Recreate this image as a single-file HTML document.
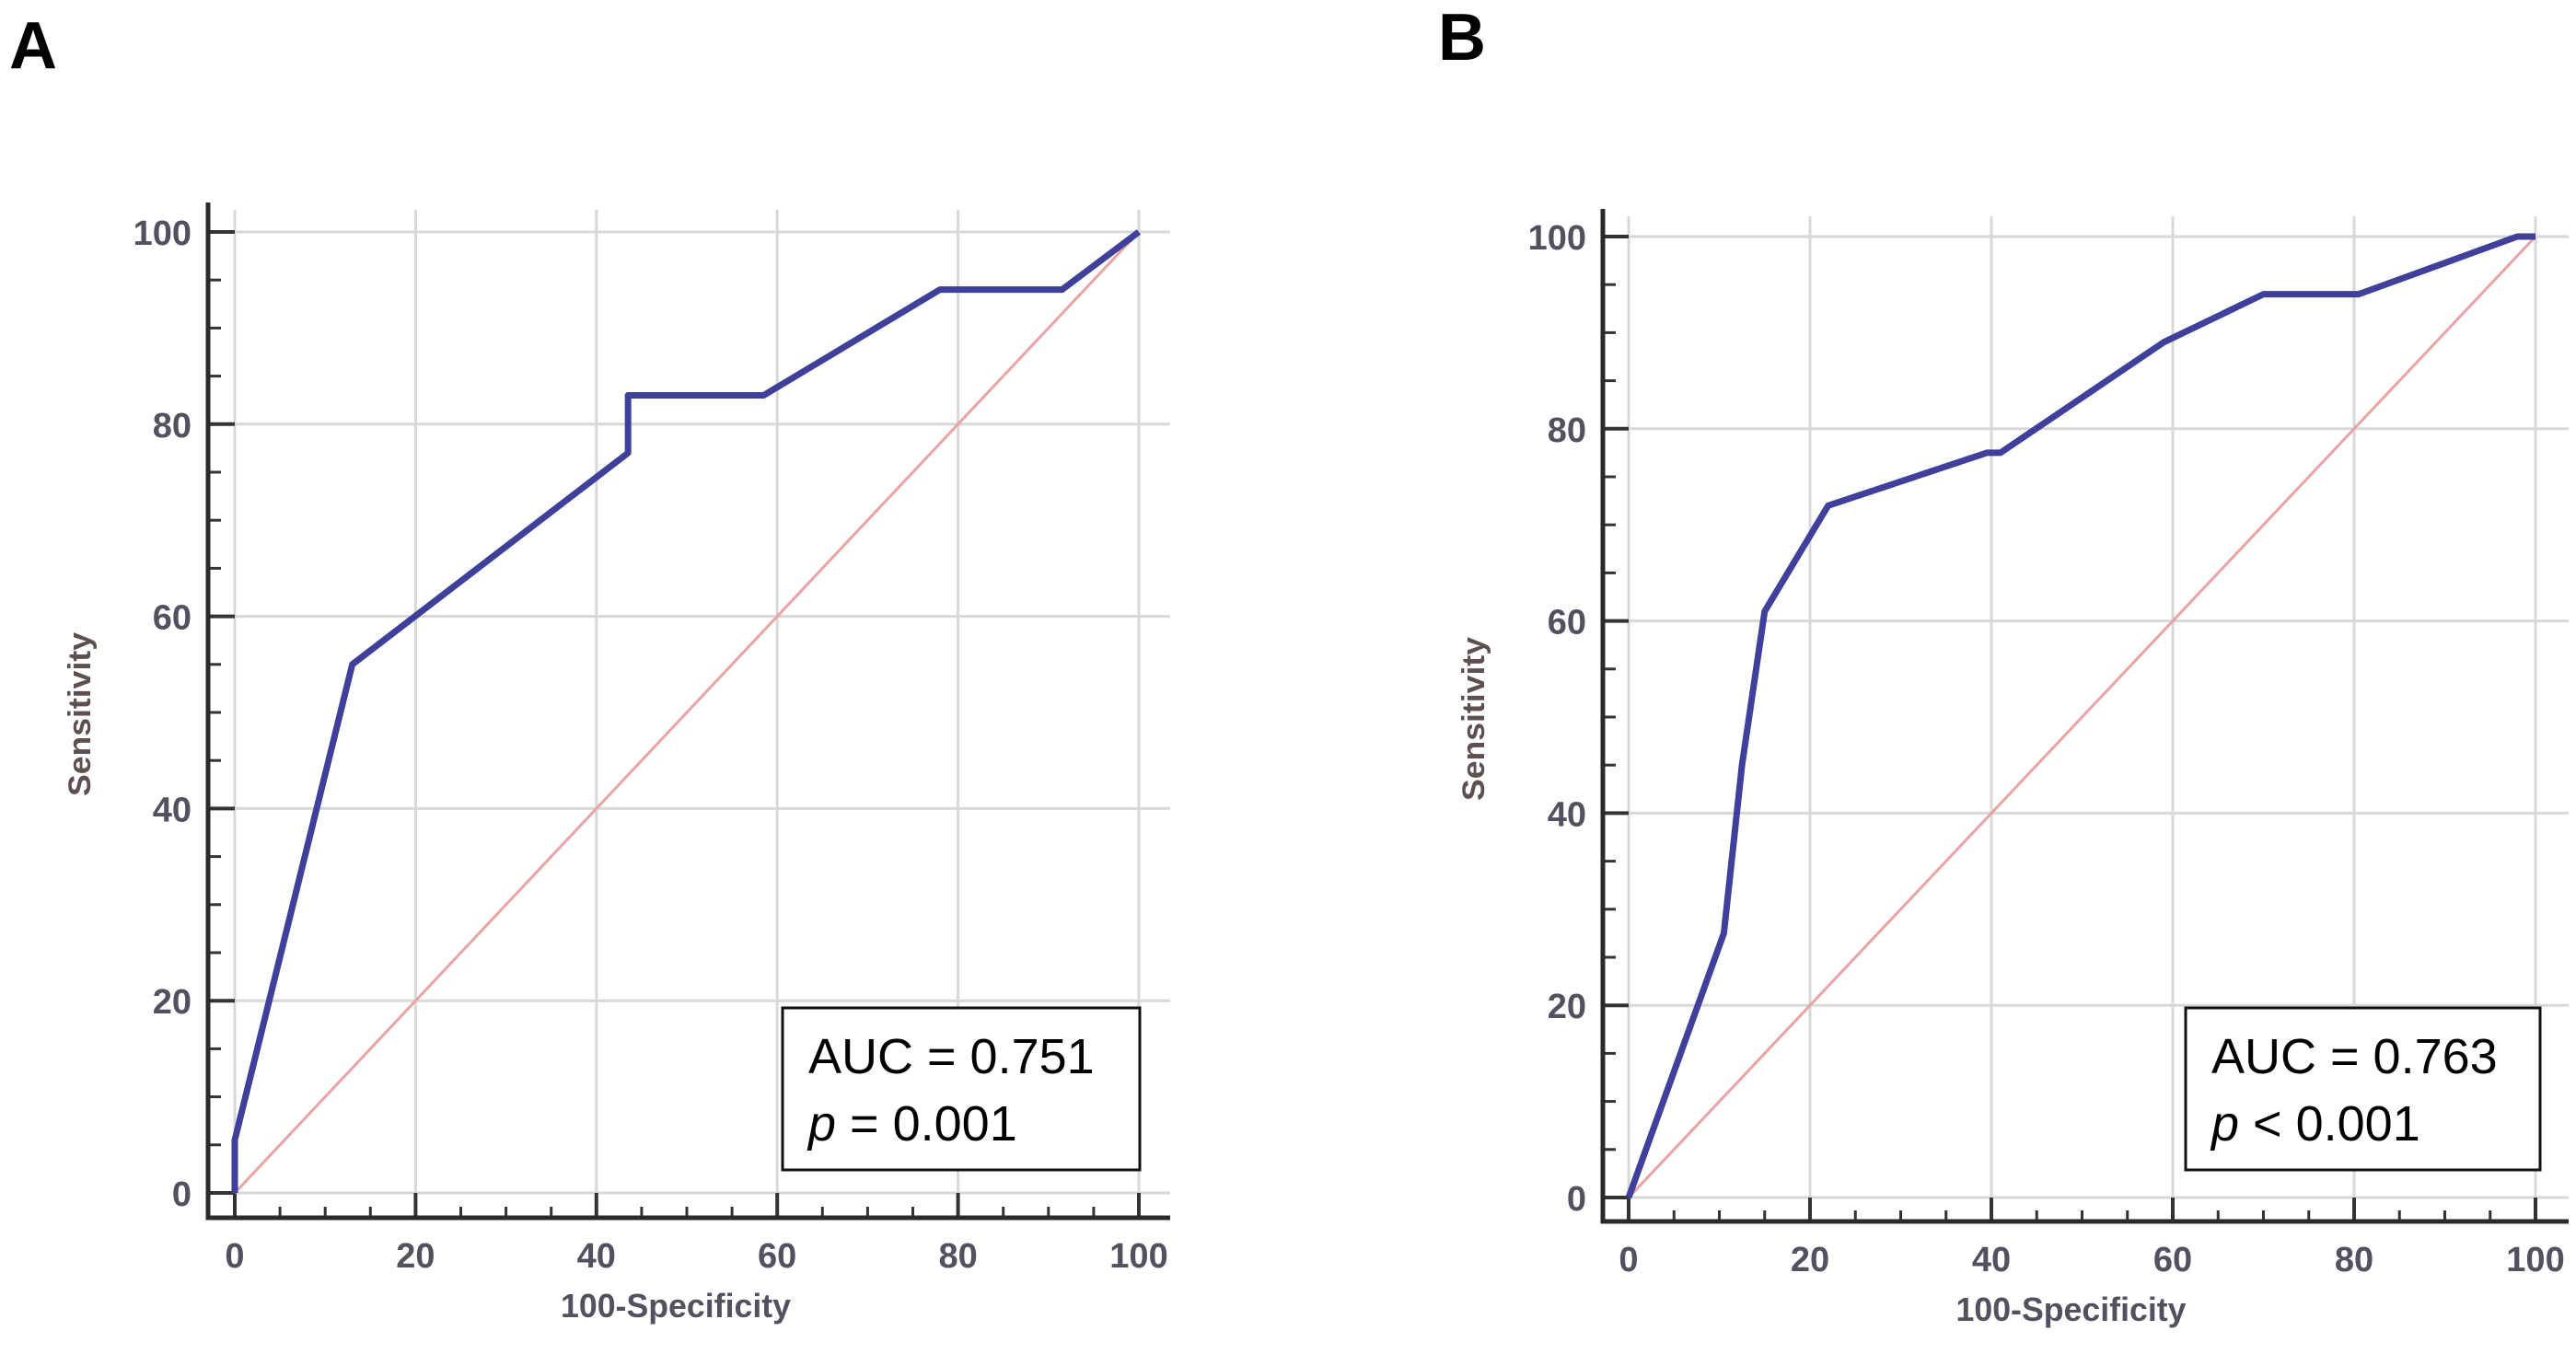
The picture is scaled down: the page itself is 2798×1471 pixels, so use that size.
<!DOCTYPE html>
<html><head><meta charset="utf-8"><style>
html,body{margin:0;padding:0;background:#fff;}
svg{display:block;}
</style></head><body>
<svg id="fig" width="2798" height="1471" viewBox="0 0 2798 1471" xmlns="http://www.w3.org/2000/svg" font-family="Liberation Sans, sans-serif">
<text x="10" y="74" font-size="72" font-weight="bold" fill="#000">A</text>
<text x="1562" y="65" font-size="72" font-weight="bold" fill="#000">B</text>
<g id="panelA"></g>
<g id="panelB"></g>
</svg>
<script>
// Panel A data
const aFpr = [0, 0, 13, 43.5, 43.5, 58.5, 78, 91.5, 100];
const aSens = [0, 5.5, 55, 77, 83, 83, 94, 94, 100];
// Panel B data
const bFpr = [0, 10.5, 12.5, 15, 22, 39.5, 41, 59, 70, 80.5, 98, 100];
const bSens = [0, 27.5, 45, 61, 72, 77.5, 77.5, 89, 94, 94, 100, 100];
const tickVals = [0, 20, 40, 60, 80, 100];
const tickLabels = ["0", "20", "40", "60", "80", "100"];
const aucLabels = ["AUC = 0.751", "AUC = 0.763"];
const pLabels = [" = 0.001", " < 0.001"];

const NS = "http://www.w3.org/2000/svg";
function mk(tag, attrs, parent){
  const e = document.createElementNS(NS, tag);
  for (const k in attrs) e.setAttribute(k, attrs[k]);
  parent.appendChild(e);
  return e;
}

function drawPanel(g, cfg, fpr, sens, auc, pTxt, tag){
  const sx = v => cfg.x0 + (cfg.x100 - cfg.x0) * v / 100;
  const sy = v => cfg.y0 + (cfg.y100 - cfg.y0) * v / 100;
  tickVals.forEach(v => {
    const h = mk('line', {x1: cfg.left, x2: cfg.right, y1: sy(v), y2: sy(v), stroke: '#d8d8d8', 'stroke-width': 3}, g);
    
    
    const vl = mk('line', {x1: sx(v), x2: sx(v), y1: cfg.top + 8, y2: cfg.bottom, stroke: '#d8d8d8', 'stroke-width': 3}, g);
    
    
  });
  for (let v = 0; v <= 100; v += 5) {
    if (v % 20 === 0) continue;
    const t1 = mk('line', {x1: cfg.left, x2: cfg.left + 14, y1: sy(v), y2: sy(v), stroke: '#333', 'stroke-width': 3}, g);
    
    
    const t2 = mk('line', {x1: sx(v), x2: sx(v), y1: cfg.bottom, y2: cfg.bottom - 12, stroke: '#333', 'stroke-width': 3}, g);
    
    
  }
  tickVals.forEach((v, i) => {
    const t1 = mk('line', {x1: cfg.left, x2: cfg.x0, y1: sy(v), y2: sy(v), stroke: '#333', 'stroke-width': 4}, g);
    
    
    const t2 = mk('line', {x1: sx(v), x2: sx(v), y1: cfg.bottom, y2: cfg.y0, stroke: '#333', 'stroke-width': 4}, g);
    
    
    const yl = mk('text', {x: cfg.left - 18, y: sy(v) + 14, 'font-size': 38, 'font-weight': 'bold', 'text-anchor': 'end', fill: '#555060'}, g);
    yl.textContent = tickLabels[i];
    
    
    const xl = mk('text', {x: sx(v), y: cfg.bottom + 54, 'font-size': 38, 'font-weight': 'bold', 'text-anchor': 'middle', fill: '#555060'}, g);
    xl.textContent = tickLabels[i];
    
    
  });
  const ax = mk('path', {d: `M${cfg.left},${cfg.top} L${cfg.left},${cfg.bottom} L${cfg.right},${cfg.bottom}`, fill: 'none', stroke: '#2a2a2a', 'stroke-width': 5}, g);
  
  
  const xt = mk('text', {x: (cfg.x0 + cfg.x100) / 2 - 12, y: cfg.bottom + 108, 'font-size': 36, 'font-weight': 'bold', 'text-anchor': 'middle', fill: '#555060', textLength: 250, lengthAdjust: 'spacingAndGlyphs'}, g);
  xt.textContent = '100-Specificity';
  
  
  const cy = (cfg.y0 + cfg.y100) / 2 + 2;
  const yt = mk('text', {x: cfg.ytX, y: cy, 'font-size': 34, 'font-weight': 'bold', 'text-anchor': 'middle', fill: '#5e5050', textLength: 178, lengthAdjust: 'spacingAndGlyphs', transform: `rotate(-90 ${cfg.ytX} ${cy})`}, g);
  yt.textContent = 'Sensitivity';
  
  
  const d = mk('line', {x1: sx(0), y1: sy(0), x2: sx(100), y2: sy(100), stroke: '#e8a4a4', 'stroke-width': 3}, g);
  
  
  const pts = fpr.map((f, i) => sx(f) + ',' + sy(sens[i])).join(' ');
  const c = mk('polyline', {points: pts, fill: 'none', stroke: '#3f3f9c', 'stroke-width': 7, 'stroke-linejoin': 'round'}, g);
  
  
  const bx = mk('rect', {x: cfg.boxX, y: 1095, width: cfg.boxW, height: 176, fill: '#fff', stroke: '#111', 'stroke-width': 3}, g);
  
  
  const t1 = mk('text', {x: cfg.boxX + 28, y: 1166, 'font-size': 54, fill: '#000'}, g);
  t1.textContent = auc;
  
  
  const t2 = mk('text', {x: cfg.boxX + 28, y: 1239, 'font-size': 54, fill: '#000'}, g);
  const ti = mk('tspan', {'font-style': 'italic'}, t2);
  ti.textContent = 'p';
  const tr = mk('tspan', {}, t2);
  tr.textContent = pTxt;
  
  
}

drawPanel(document.getElementById('panelA'),
  {x0: 255, x100: 1237, y0: 1296, y100: 252, left: 226, bottom: 1323, top: 220, right: 1271, ytX: 98, boxX: 850, boxW: 388},
  aFpr, aSens, aucLabels[0], pLabels[0], 'a');
drawPanel(document.getElementById('panelB'),
  {x0: 1769, x100: 2754, y0: 1301, y100: 257, left: 1741, bottom: 1327, top: 227, right: 2790, ytX: 1612, boxX: 2374, boxW: 385},
  bFpr, bSens, aucLabels[1], pLabels[1], 'b');
</script>
</body></html>
